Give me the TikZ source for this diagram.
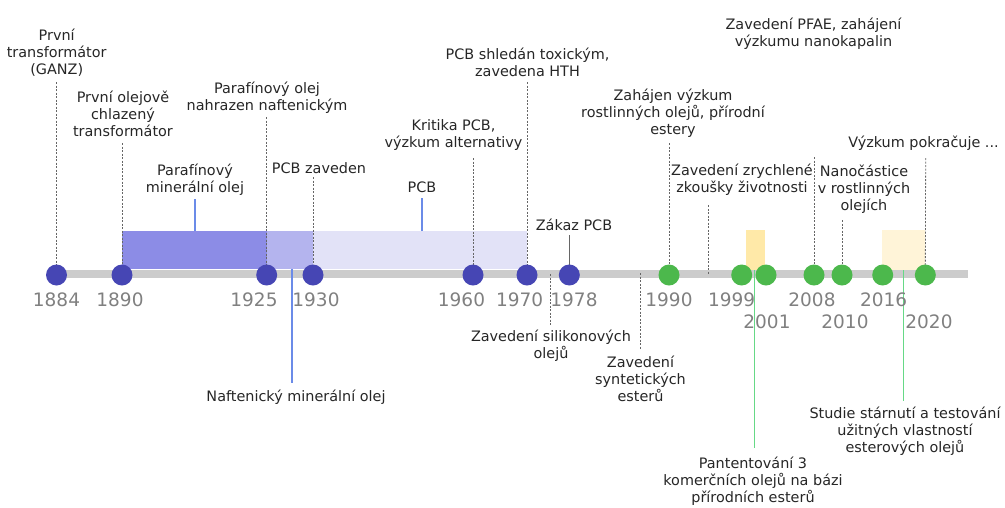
\documentclass[tikz,border=0pt]{standalone}
\usepackage{fontspec}
\setmainfont{DejaVu Sans}
\pgfdeclarelayer{back}
\pgfsetlayers{back,main}
\definecolor{txt}{HTML}{262626}
\definecolor{yr}{HTML}{808080}
\definecolor{bdotc}{HTML}{4646B4}
\definecolor{gdotc}{HTML}{4CB84C}
\definecolor{axisc}{HTML}{CCCCCC}
\definecolor{dashc}{HTML}{666666}
\definecolor{barA}{HTML}{8C8CE6}
\definecolor{barB}{HTML}{B4B4EE}
\definecolor{barC}{HTML}{E2E2F7}
\definecolor{yelA}{HTML}{FFE9A8}
\definecolor{yelB}{HTML}{FFF4D8}
\definecolor{bluel}{HTML}{6B8BE8}
\definecolor{greenl}{HTML}{66D986}
\tikzset{
 lbl/.style={font=\fontsize{14.4}{17}\selectfont, text=txt, align=center, inner sep=0pt},
 yrlbl/.style={font=\fontsize{18.5}{20}\selectfont, text=yr, inner sep=0pt},
 bdot/.style={circle, fill=bdotc, minimum size=21pt, inner sep=0pt},
 gdot/.style={circle, fill=gdotc, minimum size=21pt, inner sep=0pt},
 dl/.style={draw=dashc, line width=0.8pt, dash pattern=on 2pt off 1.5pt},
 sl/.style={draw=dashc, line width=1pt},
 bl/.style={draw=bluel, line width=1.2pt},
 gl/.style={draw=greenl, line width=1.6pt},
 barnode/.style={draw=none, inner sep=0pt, minimum height=38pt},
 axisline/.style={draw=axisc, line width=8pt}
}
\begin{document}
\begin{tikzpicture}[x=1pt,y=-1pt]
\useasboundingbox (0,0) rectangle (1005,507);
% dots
\node[bdot] (d1884) at (56.5,275) {};
\node[bdot] (d1890) at (122,275) {};
\node[bdot] (d1925) at (266.7,275) {};
\node[bdot] (d1930) at (313,275) {};
\node[bdot] (d1960) at (473,275) {};
\node[bdot] (d1970) at (527,275) {};
\node[bdot] (d1978) at (569.3,275) {};
\node[gdot] (d1990) at (669,275) {};
\node[gdot] (d1999) at (741.7,275) {};
\node[gdot] (d2001) at (766,275) {};
\node[gdot] (d2008) at (814,275) {};
\node[gdot] (d2010) at (842,275) {};
\node[gdot] (d2016) at (882.7,275) {};
\node[gdot] (d2020) at (925.3,275) {};
% year labels
\node[yrlbl] (y1884) at (56.5,300) {1884};
\node[yrlbl] (y1890) at (120,300) {1890};
\node[yrlbl] (y1925) at (254,300) {1925};
\node[yrlbl] (y1930) at (316,300) {1930};
\node[yrlbl] (y1960) at (461.5,300) {1960};
\node[yrlbl] (y1970) at (519.6,300) {1970};
\node[yrlbl] (y1978) at (574,300) {1978};
\node[yrlbl] (y1990) at (669,300) {1990};
\node[yrlbl] (y1999) at (731.7,300) {1999};
\node[yrlbl] (y2001) at (767,322) {2001};
\node[yrlbl] (y2008) at (812,300) {2008};
\node[yrlbl] (y2010) at (845,322) {2010};
\node[yrlbl] (y2016) at (883.7,300) {2016};
\node[yrlbl] (y2020) at (929,322) {2020};
% event labels
\node[lbl] (l1884) at (56.7,53) {První\\transformátor\\(GANZ)};
\node[lbl] (l1890) at (123,114) {První olejově\\chlazený\\transformátor};
\node[lbl] (l1925) at (267,97.5) {Parafínový olej\\nahrazen naftenickým};
\node[lbl] (l1930) at (319,168) {PCB zaveden};
\node[lbl] (lA) at (195,180) {Parafínový\\minerální olej};
\node[lbl] (lC) at (422,187) {PCB};
\node[lbl] (l1960) at (453.5,134.7) {Kritika PCB,\\výzkum alternativy};
\node[lbl] (l1970) at (527.5,62.5) {PCB shledán toxickým,\\zavedena HTH};
\node[lbl] (l1978) at (574,225) {Zákaz PCB};
\node[lbl] (l1975) at (551,345.5) {Zavedení silikonových\\olejů};
\node[lbl] (l1985) at (640.5,379) {Zavedení\\syntetických\\esterů};
\node[lbl] (l1990) at (673,113.5) {Zahájen výzkum\\rostlinných olejů, přírodní\\estery};
\node[lbl] (l1995) at (742,180) {Zavedení zrychlené\\zkoušky životnosti};
\node[lbl] (l2008) at (813.5,34.2) {Zavedení PFAE, zahájení\\výzkumu nanokapalin};
\node[lbl] (l2010) at (864,189) {Nanočástice\\v rostlinných\\olejích};
\node[lbl] (l2020) at (923.5,143.3) {Výzkum pokračuje ...};
\node[lbl] (lB) at (296,397) {Naftenický minerální olej};
\node[lbl] (lY1) at (753,481.5) {Pantentování 3\\komerčních olejů na bázi\\přírodních esterů};
\node[lbl] (lY2) at (905,431.7) {Studie stárnutí a testování\\užitných vlastností\\esterových olejů};
% connector ends
\coordinate (axL) at (50,274);
\coordinate (axR) at (968,274);
\coordinate (t1884) at (56.5,82);
\coordinate (t1890) at (122,143);
\coordinate (t1925) at (266.7,117);
\coordinate (t1930) at (313,177);
\coordinate (t1960) at (473,158);
\coordinate (t1970) at (527,82);
\coordinate (t1978) at (569.3,235);
\coordinate (a1975) at (550,274);
\coordinate (b1975) at (550,325);
\coordinate (a1985) at (640,273);
\coordinate (b1985) at (640,350);
\coordinate (t1990) at (669,143);
\coordinate (a1995) at (708.3,205);
\coordinate (b1995) at (708.3,274);
\coordinate (t2008) at (814,157);
\coordinate (t2010) at (842,220);
\coordinate (t2020) at (925.7,158);
\coordinate (tA) at (195,199);
\coordinate (bA) at (195,231);
\coordinate (tC) at (422,198);
\coordinate (bC) at (422,231);
\coordinate (tB) at (292,269);
\coordinate (bB) at (292,383);
\coordinate (tY1) at (754.3,270);
\coordinate (bY1) at (754.3,448);
\coordinate (tY2) at (903.3,270);
\coordinate (bY2) at (903.3,401);
\begin{pgfonlayer}{back}
\draw[axisline] (axL) -- (axR);
\node[barnode, fill=barA, minimum width=145pt] (barPar) at (194.5,250) {};
\node[barnode, fill=barB, minimum width=46pt] (barNaf) at (290,250) {};
\node[barnode, fill=barC, minimum width=214pt] (barPCB) at (420,250) {};
\node[barnode, fill=yelA, minimum width=19pt, minimum height=40pt] (barY1) at (755.5,250) {};
\node[barnode, fill=yelB, minimum width=43pt, minimum height=40pt] (barY2) at (903.5,250) {};
\draw[dl] (t1884) -- (d1884.center);
\draw[dl] (t1890) -- (d1890.center);
\draw[dl] (t1925) -- (d1925.center);
\draw[dl] (t1930) -- (d1930.center);
\draw[dl] (t1960) -- (d1960.center);
\draw[dl] (t1970) -- (d1970.center);
\draw[sl] (t1978) -- (d1978.center);
\draw[dl] (a1975) -- (b1975);
\draw[dl] (a1985) -- (b1985);
\draw[dl] (t1990) -- (d1990.center);
\draw[dl] (a1995) -- (b1995);
\draw[dl] (t2008) -- (d2008.center);
\draw[dl] (t2010) -- (d2010.center);
\draw[dl] (t2020) -- (d2020.center);
\draw[bl] (bA) -- (tA);
\draw[bl] (bC) -- (tC);
\draw[bl] (tB) -- (bB);
\draw[gl] (tY1) -- (bY1);
\draw[gl] (tY2) -- (bY2);
\end{pgfonlayer}
\end{tikzpicture}
\end{document}
